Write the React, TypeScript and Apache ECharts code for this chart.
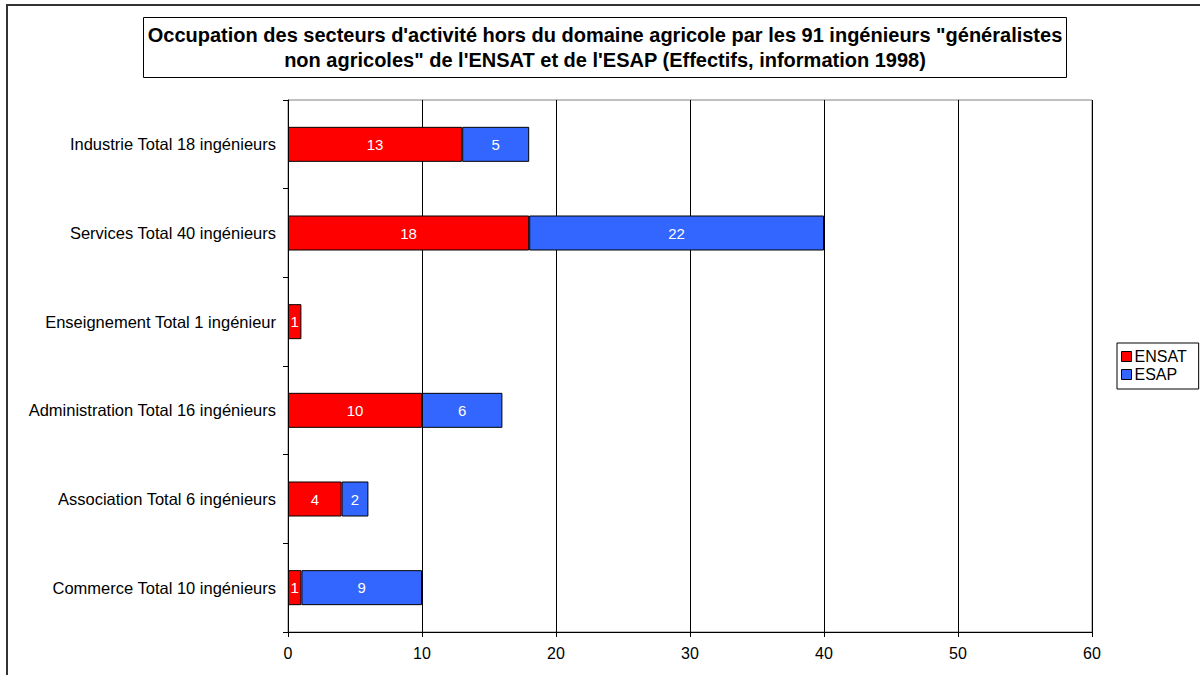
import React, { useEffect, useRef } from "react";
import * as echarts from "echarts";

const titleLines = [
  "Occupation des secteurs d'activité hors du domaine agricole par les 91 ingénieurs \"généralistes",
  "non agricoles\" de l'ENSAT et de l'ESAP (Effectifs, information 1998)",
];
const categories = [
  "Industrie Total 18 ingénieurs",
  "Services Total 40 ingénieurs",
  "Enseignement Total 1 ingénieur",
  "Administration Total 16 ingénieurs",
  "Association Total 6 ingénieurs",
  "Commerce Total 10 ingénieurs",
];
const ensat = [13, 18, 1, 10, 4, 1];
const esap = [5, 22, 0, 6, 2, 9];
const xTicks = { min: 0, max: 60, interval: 10 };

const FONT = "Arial, 'Liberation Sans', sans-serif";

export default function App() {
  const ref = useRef<HTMLDivElement>(null);
  useEffect(() => {
    if (!ref.current) return;
    const chart = echarts.init(ref.current, null, { renderer: "svg" });
    const barLabel = {
      show: true,
      position: "inside",
      color: "#fff",
      fontSize: 15,
      fontFamily: FONT,
      formatter: (p: any) => (p.value ? String(p.value) : ""),
    };
    chart.setOption({
      animation: false,
      backgroundColor: "#fff",
      textStyle: { fontFamily: FONT },
      graphic: [
        {
          type: "rect",
          shape: { x: 7, y: 5, width: 1400, height: 900 },
          style: { fill: "none", stroke: "#333", lineWidth: 2 },
          silent: true,
          z: -10,
        },
        {
          type: "rect",
          shape: { x: 143.5, y: 17.5, width: 923, height: 60 },
          style: { fill: "#fff", stroke: "#000", lineWidth: 1 },
          silent: true,
        },
        {
          type: "text",
          x: 605,
          y: 47.5,
          style: {
            text: titleLines.join("\n"),
            align: "center",
            verticalAlign: "middle",
            fontFamily: FONT,
            fontWeight: "bold",
            fontSize: 20,
            lineHeight: 25,
            fill: "#000",
          },
          silent: true,
        },
      ],
      legend: {
        orient: "vertical",
        left: 1117,
        top: 343,
        data: ["ENSAT", "ESAP"],
        icon: "rect",
        itemWidth: 10,
        itemHeight: 10,
        itemGap: 1,
        padding: [5, 12, 6, 4],
        borderColor: "#000",
        borderWidth: 1,
        backgroundColor: "#fff",
        textStyle: { fontSize: 16, color: "#000", fontFamily: FONT, lineHeight: 17, padding: [0, 0, 0, -2] },
        itemStyle: { borderColor: "#000", borderWidth: 1 },
      },
      grid: {
        left: 288,
        right: 108,
        top: 100,
        bottom: 43,
        show: true,
        borderColor: "#808080",
        borderWidth: 1,
      },
      xAxis: {
        type: "value",
        min: xTicks.min,
        max: xTicks.max,
        interval: xTicks.interval,
        axisLine: { show: true, lineStyle: { color: "#000", width: 1 } },
        axisTick: { show: true, length: 5, lineStyle: { color: "#000" } },
        axisLabel: { color: "#000", fontSize: 16, margin: 13, fontFamily: FONT },
        splitLine: { show: true, lineStyle: { color: "#000", width: 1 } },
      },
      yAxis: {
        type: "category",
        inverse: true,
        data: categories,
        axisLine: { show: true, lineStyle: { color: "#000", width: 1 } },
        axisTick: { show: true, length: 5, lineStyle: { color: "#000" } },
        axisLabel: { color: "#000", fontSize: 16.5, margin: 12, fontFamily: FONT },
        splitLine: { show: false },
      },
      series: [
        {
          name: "ENSAT",
          type: "bar",
          stack: "total",
          data: ensat.map((v) => (v ? v : null)),
          barWidth: 35,
          itemStyle: { color: "#FF0000", borderColor: "#000", borderWidth: 1 },
          label: barLabel,
        },
        {
          name: "ESAP",
          type: "bar",
          stack: "total",
          data: esap.map((v) => (v ? v : null)),
          barWidth: 35,
          itemStyle: { color: "#3366FF", borderColor: "#000", borderWidth: 1 },
          label: barLabel,
        },
      ],
    });
    return () => chart.dispose();
  }, []);
  return (
    <div
      ref={ref}
      style={{ position: "absolute", left: 0, top: 0, width: 1200, height: 675 }}
    />
  );
}
